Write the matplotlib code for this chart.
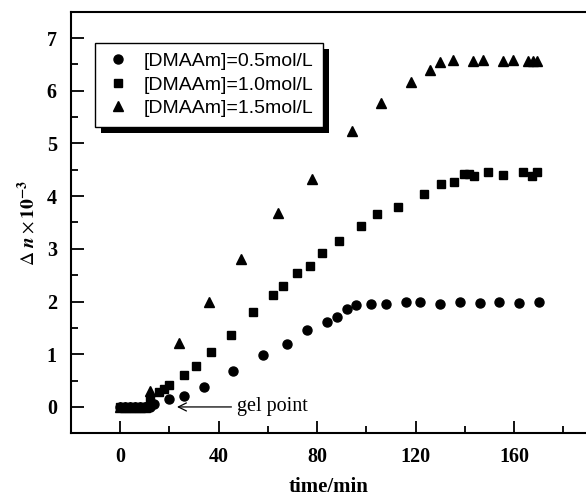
import matplotlib
matplotlib.use("Agg")
import matplotlib.pyplot as plt
from matplotlib.patches import Rectangle

# [DMAAm]=0.5mol/L
t_05 = [0, 2, 4, 6, 8, 10, 12, 14, 20, 26, 34, 46, 58, 68, 76, 84, 88, 92, 96,
        102, 108, 116, 122, 130, 138, 146, 154, 162, 170]
n_05 = [0, 0, 0, 0, 0, 0, 0, 0.05, 0.15, 0.2, 0.37, 0.68, 0.98, 1.2, 1.46, 1.62,
        1.71, 1.85, 1.93, 1.95, 1.95, 1.99, 1.99, 1.95, 1.99, 1.97, 1.99, 1.97, 1.99]

# [DMAAm]=1.0mol/L
t_10 = [0, 2, 4, 6, 8, 10, 12, 16, 18, 20, 26, 31, 37, 45, 54, 62, 66, 72, 77,
        82, 89, 98, 104.5, 112.7, 123.6, 130.4, 135.8, 139.7, 141.7, 143.6,
        149.5, 155.5, 163.6, 167.3, 169.5]
n_10 = [0, 0, 0, 0, 0, 0, 0.15, 0.28, 0.35, 0.42, 0.61, 0.77, 1.04, 1.37, 1.8,
        2.13, 2.29, 2.55, 2.68, 2.93, 3.14, 3.43, 3.66, 3.8, 4.05, 4.23, 4.27,
        4.42, 4.42, 4.39, 4.45, 4.4, 4.45, 4.39, 4.45]

# [DMAAm]=1.5mol/L
t_15 = [0, 2, 4, 6, 8, 10, 12, 24, 36, 49, 64, 78, 94, 106, 118, 126, 130, 135,
        143.5, 147.5, 155.5, 159.5, 165.5, 167.5, 169.5]
n_15 = [0, 0, 0, 0, 0, 0, 0.3, 1.22, 2.0, 2.8, 3.68, 4.32, 5.23, 5.76, 6.17,
        6.39, 6.54, 6.59, 6.57, 6.58, 6.57, 6.59, 6.57, 6.57, 6.57]

labels = ["[DMAAm]=0.5mol/L", "[DMAAm]=1.0mol/L", "[DMAAm]=1.5mol/L"]

plt.rcParams["mathtext.fontset"] = "stix"

fig = plt.figure(figsize=(5.86, 5.01), dpi=100)
ax = fig.add_axes([70.75 / 586, 67.7 / 501, 515.25 / 586, 421.6 / 501])

ax.plot(t_05, n_05, "o", color="k", markersize=6.5, label=labels[0])
ax.plot(t_10, n_10, "s", color="k", markersize=5.8, label=labels[1])
ax.plot(t_15, n_15, "^", color="k", markersize=7, label=labels[2])

ax.set_xlim(-20, 189.2)
ax.set_ylim(-0.5, 7.5)
ax.set_xticks([0, 40, 80, 120, 160])
ax.set_xticks([20, 60, 100, 140, 180], minor=True)
ax.set_yticks(range(0, 8))
ax.set_yticks([-0.5 + i for i in range(8)], minor=True)
ax.tick_params(which="both", direction="in", width=1.3, top=False, right=False)
ax.tick_params(which="major", length=9)
ax.tick_params(which="minor", length=5)
for lab in ax.get_xticklabels() + ax.get_yticklabels():
    lab.set_fontfamily("Liberation Serif")
    lab.set_fontweight("bold")
    lab.set_fontsize(14.5)
ax.tick_params(axis="x", pad=10)
ax.tick_params(axis="y", pad=10)

ax.spines["right"].set_visible(False)
for s in ["left", "bottom", "top"]:
    ax.spines[s].set_linewidth(1.5)

ax.set_xlabel("time/min", fontsize=15, fontweight="bold",
              family="Liberation Serif", labelpad=7)
ax.set_ylabel(r"$\Delta\ \mathbfit{n} \times \mathbf{10}^{\mathbf{-3}}$",
              fontsize=14, labelpad=6)

ax.annotate("gel point", xy=(22, 0), xytext=(47.5, 0), ha="left", va="center",
            fontsize=14.5, family="Liberation Serif",
            arrowprops=dict(arrowstyle="->", lw=0.9, color="k"))

leg = ax.legend(loc="upper left", bbox_to_anchor=(0.047, 0.926), borderaxespad=0,
                fancybox=False, edgecolor="k", framealpha=1,
                prop={"family": "Liberation Sans", "size": 14},
                handletextpad=0.6, labelspacing=0.3, borderpad=0.5,
                handlelength=1.4)
leg.get_frame().set_linewidth(1.0)

# black drop shadow behind the legend
fig.canvas.draw()
bb = leg.get_window_extent()
shadow = Rectangle((bb.x0 + 6, bb.y0 - 6), bb.width, bb.height, transform=None,
                   facecolor="k", edgecolor="none", zorder=leg.get_zorder() - 0.1,
                   clip_on=False)
ax.add_artist(shadow)

fig.savefig("out.png", dpi=100)
